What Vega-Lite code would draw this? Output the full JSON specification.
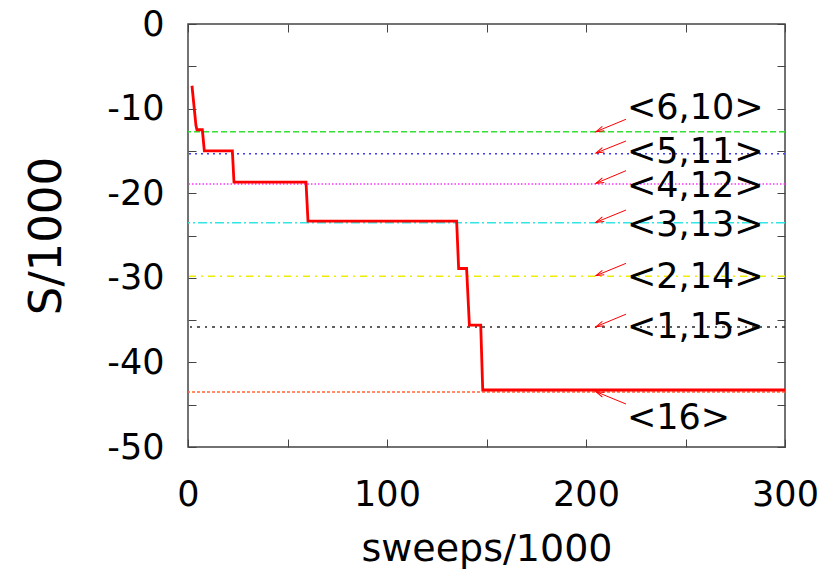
{
  "$schema": "https://vega.github.io/schema/vega-lite/v6.json",
  "width": 597,
  "height": 423,
  "autosize": "none",
  "padding": {"left": 188, "top": 24, "right": 51, "bottom": 132},
  "background": "white",
  "config": {
    "view": {"stroke": "#444444", "strokeWidth": 1.5},
    "font": "DejaVu Sans"
  },
  "resolve": {"axis": {"x": "independent", "y": "independent"}},
  "datasets": {
    "curve": [
      {"x": 2.0, "S": -7.3},
      {"x": 4.0, "S": -12.0},
      {"x": 4.5, "S": -12.5},
      {"x": 7.2, "S": -12.5},
      {"x": 8.2, "S": -15.0},
      {"x": 22.3, "S": -15.0},
      {"x": 23.1, "S": -18.7},
      {"x": 59.3, "S": -18.7},
      {"x": 60.3, "S": -23.3},
      {"x": 135.0, "S": -23.3},
      {"x": 136.0, "S": -28.9},
      {"x": 140.0, "S": -28.9},
      {"x": 141.4, "S": -35.6},
      {"x": 147.1, "S": -35.6},
      {"x": 148.1, "S": -43.26},
      {"x": 300.0, "S": -43.26}
    ],
    "levels": [
      {"k": "a", "S": -12.74},
      {"k": "b", "S": -15.33},
      {"k": "c", "S": -18.9},
      {"k": "d", "S": -23.5},
      {"k": "e", "S": -29.82},
      {"k": "f", "S": -35.82},
      {"k": "g", "S": -43.5}
    ],
    "notes": [
      {"label": "<6,10>", "lx": 220.6, "ly": -9.95, "ax1": 220.1, "ay1": -11.26, "ax2": 205.0, "ay2": -12.73, "dir": "up"},
      {"label": "<5,11>", "lx": 220.6, "ly": -15.1, "ax1": 220.1, "ay1": -13.83, "ax2": 205.0, "ay2": -15.25, "dir": "up"},
      {"label": "<4,12>", "lx": 220.6, "ly": -19.15, "ax1": 220.1, "ay1": -17.34, "ax2": 205.0, "ay2": -18.83, "dir": "up"},
      {"label": "<3,13>", "lx": 220.6, "ly": -23.76, "ax1": 220.1, "ay1": -21.99, "ax2": 205.0, "ay2": -23.44, "dir": "up"},
      {"label": "<2,14>", "lx": 220.6, "ly": -29.87, "ax1": 220.1, "ay1": -28.29, "ax2": 205.0, "ay2": -29.75, "dir": "up"},
      {"label": "<1,15>", "lx": 220.6, "ly": -35.78, "ax1": 220.1, "ay1": -34.3, "ax2": 205.0, "ay2": -35.78, "dir": "up"},
      {"label": "<16>", "lx": 220.6, "ly": -46.6, "ax1": 220.1, "ay1": -44.92, "ax2": 205.0, "ay2": -43.46, "dir": "down"}
    ]
  },
  "layer": [
    {
      "data": {"name": "levels"},
      "mark": {"type": "rule", "strokeWidth": 1.5},
      "encoding": {
        "y": {
          "field": "S", "type": "quantitative",
          "scale": {"domain": [-50, 0], "nice": false, "zero": false},
          "axis": {
            "orient": "left",
            "values": [-50, -45, -40, -35, -30, -25, -20, -15, -10, -5, 0],
            "labelExpr": "datum.value % 10 === 0 ? toString(datum.value) : ''",
            "labelFlush": false,
            "title": "S/1000",
            "titleFont": "DejaVu Sans",
            "titleFontSize": 45,
            "titleFontWeight": "normal",
            "titleColor": "black",
            "titlePadding": 37,
            "labelFont": "DejaVu Sans",
            "labelFontSize": 35,
            "labelColor": "black",
            "labelPadding": 32,
            "tickSize": -8,
            "tickColor": "#444444",
            "domain": false,
            "grid": false
          }
        },
        "color": {
          "field": "k", "type": "nominal", "legend": null,
          "scale": {"domain": ["a", "b", "c", "d", "e", "f", "g"],
                    "range": ["#33e033", "#3c3cee", "#ff33ff", "#33e6e6", "#eeee00", "#2a2a2a", "#ff6633"]}
        },
        "strokeDash": {
          "field": "k", "type": "nominal", "legend": null,
          "scale": {"domain": ["a", "b", "c", "d", "e", "f", "g"],
                    "range": [[6, 3], [2, 4], [1.5, 2], [9, 3, 2, 3], [7, 5, 2, 5], [3, 5, 2, 5], [3, 2]]}
        }
      }
    },
    {
      "data": {"name": "curve"},
      "mark": {"type": "line", "color": "#ff0000", "strokeWidth": 2.8},
      "encoding": {
        "x": {
          "field": "x", "type": "quantitative",
          "scale": {"domain": [0, 300], "nice": false},
          "axis": {
            "orient": "bottom",
            "values": [0, 50, 100, 150, 200, 250, 300],
            "labelExpr": "datum.value % 100 === 0 ? toString(datum.value) : ''",
            "labelFlush": false,
            "title": "sweeps/1000",
            "titleFont": "DejaVu Sans",
            "titleFontSize": 38,
            "titleFontWeight": "normal",
            "titleColor": "black",
            "titlePadding": 18,
            "labelFont": "DejaVu Sans",
            "labelFontSize": 35,
            "labelColor": "black",
            "labelPadding": 38,
            "tickSize": -8,
            "tickColor": "#444444",
            "domain": false,
            "grid": false
          }
        },
        "y": {"field": "S", "type": "quantitative", "axis": null}
      }
    },
    {
      "data": {"name": "notes"},
      "mark": {"type": "rule", "color": "#ff0000", "strokeWidth": 1},
      "encoding": {
        "x": {
          "field": "ax1", "type": "quantitative",
          "axis": {
            "orient": "top", "values": [0, 50, 100, 150, 200, 250, 300],
            "labels": false, "title": null, "tickSize": -8, "tickColor": "#444444",
            "domain": false, "grid": false
          }
        },
        "y": {
          "field": "ay1", "type": "quantitative",
          "axis": {
            "orient": "right", "values": [-50, -45, -40, -35, -30, -25, -20, -15, -10, -5, 0],
            "labels": false, "title": null, "tickSize": -8, "tickColor": "#444444",
            "domain": false, "grid": false
          }
        },
        "x2": {"field": "ax2"},
        "y2": {"field": "ay2"}
      }
    },
    {
      "data": {"name": "notes"},
      "transform": [{"filter": "datum.dir === 'up'"}],
      "mark": {"type": "point", "shape": "M-1,-0.3L0,0L-1,0.3", "filled": false, "stroke": "#ff0000", "strokeWidth": 1, "size": 256, "angle": 157, "opacity": 1},
      "encoding": {
        "x": {"field": "ax2", "type": "quantitative", "axis": null},
        "y": {"field": "ay2", "type": "quantitative", "axis": null}
      }
    },
    {
      "data": {"name": "notes"},
      "transform": [{"filter": "datum.dir === 'down'"}],
      "mark": {"type": "point", "shape": "M-1,-0.3L0,0L-1,0.3", "filled": false, "stroke": "#ff0000", "strokeWidth": 1, "size": 256, "angle": 203, "opacity": 1},
      "encoding": {
        "x": {"field": "ax2", "type": "quantitative", "axis": null},
        "y": {"field": "ay2", "type": "quantitative", "axis": null}
      }
    },
    {
      "data": {"name": "notes"},
      "mark": {"type": "text", "align": "left", "baseline": "middle", "fontSize": 35, "font": "DejaVu Sans", "color": "black"},
      "encoding": {
        "x": {"field": "lx", "type": "quantitative", "axis": null},
        "y": {"field": "ly", "type": "quantitative", "axis": null},
        "text": {"field": "label"}
      }
    }
  ]
}
